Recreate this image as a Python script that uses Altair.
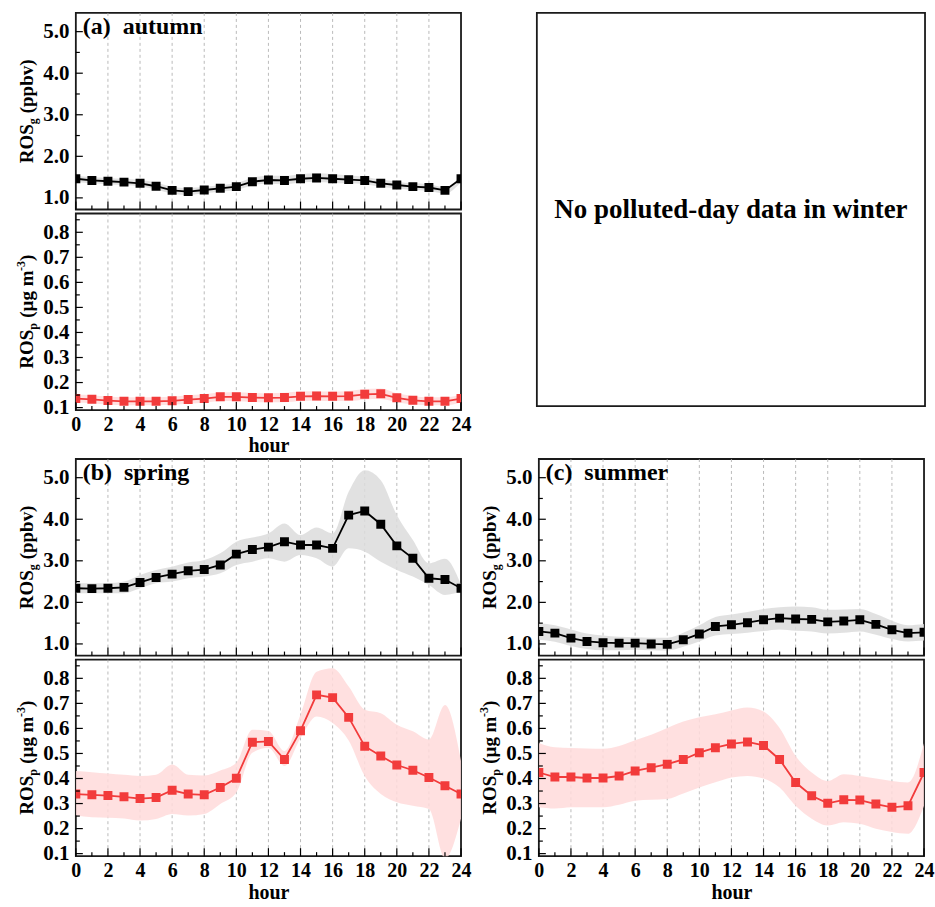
import altair as alt
import pandas as pd

# ---------------- data ----------------
hours = list(range(25))

aut_g = [1.46, 1.42, 1.40, 1.38, 1.35, 1.28, 1.18, 1.15, 1.19, 1.23, 1.27, 1.39, 1.43,
         1.42, 1.46, 1.48, 1.46, 1.44, 1.42, 1.35, 1.31, 1.27, 1.25, 1.18, 1.46]
aut_g_hi = [1.53, 1.50, 1.48, 1.46, 1.43, 1.37, 1.27, 1.24, 1.27, 1.31, 1.36, 1.48, 1.53,
            1.53, 1.57, 1.59, 1.57, 1.54, 1.51, 1.44, 1.39, 1.35, 1.33, 1.26, 1.54]
aut_g_lo = [1.39, 1.35, 1.33, 1.31, 1.28, 1.20, 1.10, 1.07, 1.11, 1.15, 1.19, 1.30, 1.34,
            1.33, 1.37, 1.38, 1.36, 1.35, 1.33, 1.27, 1.23, 1.19, 1.17, 1.10, 1.38]

aut_p = [0.136, 0.133, 0.128, 0.125, 0.125, 0.125, 0.127, 0.132, 0.136, 0.143, 0.143, 0.140, 0.139,
         0.140, 0.145, 0.146, 0.145, 0.146, 0.153, 0.155, 0.139, 0.129, 0.125, 0.125, 0.136]
aut_p_hi = [0.152, 0.149, 0.144, 0.141, 0.141, 0.141, 0.143, 0.149, 0.153, 0.160, 0.161, 0.158, 0.157,
            0.159, 0.164, 0.165, 0.164, 0.166, 0.174, 0.176, 0.157, 0.146, 0.141, 0.141, 0.152]
aut_p_lo = [0.120, 0.117, 0.112, 0.109, 0.109, 0.109, 0.111, 0.115, 0.119, 0.126, 0.125, 0.122, 0.121,
            0.121, 0.126, 0.127, 0.126, 0.126, 0.132, 0.134, 0.121, 0.112, 0.109, 0.109, 0.120]

spr_g = [2.34, 2.33, 2.34, 2.36, 2.48, 2.60, 2.68, 2.76, 2.79, 2.90, 3.16, 3.27, 3.33,
         3.46, 3.38, 3.38, 3.30, 4.10, 4.20, 3.88, 3.36, 3.06, 2.58, 2.55, 2.34]
spr_g_hi = [2.46, 2.46, 2.46, 2.50, 2.66, 2.78, 2.86, 2.96, 3.02, 3.18, 3.46, 3.56, 3.66,
            3.90, 3.62, 3.80, 3.66, 4.66, 5.18, 4.94, 4.10, 3.50, 2.94, 3.05, 2.42]
spr_g_lo = [2.22, 2.22, 2.22, 2.22, 2.34, 2.46, 2.50, 2.58, 2.62, 2.70, 2.90, 2.98, 3.06,
            2.98, 3.14, 3.06, 2.86, 3.30, 3.22, 2.98, 2.78, 2.62, 2.42, 2.18, 2.26]

spr_p = [0.338, 0.335, 0.332, 0.327, 0.320, 0.324, 0.353, 0.338, 0.335, 0.364, 0.401, 0.545, 0.548,
         0.476, 0.591, 0.734, 0.723, 0.644, 0.529, 0.490, 0.454, 0.433, 0.404, 0.371, 0.338]
spr_p_hi = [0.430, 0.425, 0.420, 0.415, 0.410, 0.415, 0.456, 0.415, 0.412, 0.432, 0.463, 0.595, 0.590,
            0.510, 0.655, 0.826, 0.840, 0.767, 0.675, 0.661, 0.615, 0.589, 0.556, 0.694, 0.470]
spr_p_lo = [0.252, 0.245, 0.243, 0.240, 0.232, 0.238, 0.258, 0.252, 0.258, 0.298, 0.344, 0.503, 0.523,
            0.450, 0.562, 0.648, 0.622, 0.552, 0.410, 0.338, 0.305, 0.291, 0.278, 0.080, 0.240]

sum_g = [1.30, 1.26, 1.14, 1.06, 1.03, 1.02, 1.02, 1.00, 0.99, 1.10, 1.24, 1.42, 1.46,
         1.51, 1.58, 1.62, 1.60, 1.59, 1.53, 1.55, 1.58, 1.47, 1.34, 1.26, 1.28]
sum_g_hi = [1.50, 1.45, 1.35, 1.25, 1.20, 1.17, 1.16, 1.15, 1.15, 1.27, 1.45, 1.65, 1.71,
            1.77, 1.84, 1.88, 1.90, 1.88, 1.82, 1.83, 1.84, 1.72, 1.56, 1.45, 1.48]
sum_g_lo = [1.10, 1.05, 0.95, 0.88, 0.85, 0.85, 0.86, 0.85, 0.84, 0.93, 1.06, 1.20, 1.24,
            1.27, 1.31, 1.35, 1.32, 1.30, 1.25, 1.27, 1.30, 1.22, 1.12, 1.06, 1.08]

sum_p = [0.424, 0.406, 0.406, 0.402, 0.402, 0.410, 0.430, 0.443, 0.457, 0.476, 0.503, 0.523, 0.538,
         0.546, 0.532, 0.476, 0.384, 0.331, 0.301, 0.315, 0.314, 0.298, 0.285, 0.291, 0.424]
sum_p_hi = [0.542, 0.525, 0.522, 0.520, 0.519, 0.530, 0.553, 0.575, 0.602, 0.628, 0.645, 0.657, 0.672,
            0.684, 0.668, 0.602, 0.490, 0.424, 0.390, 0.417, 0.410, 0.400, 0.390, 0.384, 0.542]
sum_p_lo = [0.285, 0.280, 0.285, 0.285, 0.285, 0.295, 0.311, 0.315, 0.318, 0.340, 0.364, 0.385, 0.404,
            0.410, 0.400, 0.364, 0.291, 0.239, 0.212, 0.225, 0.219, 0.199, 0.186, 0.179, 0.291]

panel_labels = ["(a)\u00a0\u00a0autumn", "(b)\u00a0\u00a0spring", "(c)\u00a0\u00a0summer"]
winter_note = "No polluted-day data in winter"

g_ticks = [1.0, 2.0, 3.0, 4.0, 5.0]
g_minor = [1.5, 2.5, 3.5, 4.5]
p_ticks = [0.1, 0.2, 0.3, 0.4, 0.5, 0.6, 0.7, 0.8]
p_minor = [0.15, 0.25, 0.35, 0.45, 0.55, 0.65, 0.75, 0.85]
hour_ticks = [0, 2, 4, 6, 8, 10, 12, 14, 16, 18, 20, 22, 24]
hour_minor = [1, 3, 5, 7, 9, 11, 13, 15, 17, 19, 21, 23]
grid_hours = [2, 4, 6, 8, 10, 12, 14, 16, 18, 20, 22]

# ---------------- style ----------------
FONT = "Liberation Serif"
W = 386
H = 197
G_DOMAIN = [0.72, 5.45]
P_DOMAIN = [0.09, 0.875]
YLBL = 21
XLBL = 20
TTL = 19
BLACK = "#000000"
FRAME = "#1a1a1a"
RED = "#f23b3b"
GRAY_BAND = "#dcdcdc"
PINK_BAND = "#ffdada"
VIEW = alt.ViewBackground(stroke=FRAME, strokeWidth=1.8, strokeOpacity=1)


def x_enc(field, show):
    if show:
        axis = alt.Axis(values=hour_ticks, format="d", ticks=False, domain=False, grid=False,
                        title="hour", labelFont=FONT, labelFontSize=XLBL, labelFontWeight="bold",
                        labelColor=BLACK, labelPadding=4, labelFlush=False, labelOverlap=False,
                        titleFont=FONT, titleFontSize=20, titleFontWeight="bold",
                        titleColor=BLACK, titlePadding=2)
    else:
        axis = None
    return alt.X(f"{field}:Q", scale=alt.Scale(domain=[0, 24], nice=False, zero=False), axis=axis)


def y_enc(field, kind):
    dom = G_DOMAIN if kind == "g" else P_DOMAIN
    vals = g_ticks if kind == "g" else p_ticks
    axis = alt.Axis(values=vals, format=".1f", ticks=False, domain=False, grid=False, title=None,
                    labelFont=FONT, labelFontSize=YLBL, labelFontWeight="bold", labelColor=BLACK,
                    labelPadding=7, labelOverlap=False)
    return alt.Y(f"{field}:Q", scale=alt.Scale(domain=dom, nice=False, zero=False), axis=axis)


def text_piece(t, x, y, size, align):
    return alt.Chart(pd.DataFrame({"t": [t]})).mark_text(
        angle=270, align=align, baseline="alphabetic", font=FONT, fontSize=size,
        fontWeight="bold", color=BLACK
    ).encode(text="t:N", x=alt.value(x), y=alt.value(y))


def y_title(kind):
    c = H / 2
    bx = -43
    if kind == "g":
        return [
            text_piece("ROS", bx, c + 13, TTL, "right"),
            text_piece("g", bx + 4, c + 13, 12, "left"),
            text_piece("(ppbv)", bx, c + 2, TTL, "left"),
        ]
    return [
        text_piece("ROS", bx, c + 18, TTL, "right"),
        text_piece("p", bx + 4, c + 18, 12, "left"),
        text_piece("(\u00b5g m", bx, c + 6, TTL, "left"),
        text_piece("-3", bx - 8, c - 41, 12, "left"),
        text_piece(")", bx, c - 51, TTL, "left"),
    ]


def subplot(val, lo, hi, kind, show_x, label=None):
    df = pd.DataFrame({"h": hours, "v": val, "lo": lo, "hi": hi})
    col = BLACK if kind == "g" else RED
    band_col = GRAY_BAND if kind == "g" else PINK_BAND
    base = alt.Chart(df)
    grid = alt.Chart(pd.DataFrame({"gh": grid_hours})).mark_rule(
        color="#a8a8a8", strokeDash=[3, 3], strokeWidth=0.8
    ).encode(x=x_enc("gh", show_x))
    band = base.mark_area(interpolate="monotone", color=band_col, opacity=0.85, clip=True).encode(
        x=x_enc("h", show_x), y=y_enc("lo", kind), y2="hi:Q")
    line = base.mark_line(color=col, strokeWidth=1.8, clip=True).encode(
        x=x_enc("h", show_x), y=y_enc("v", kind))
    pts = base.mark_square(size=80, color=col, opacity=1, clip=True).encode(
        x=x_enc("h", show_x), y=y_enc("v", kind))
    ticks = g_ticks if kind == "g" else p_ticks
    minor = g_minor if kind == "g" else p_minor
    yt = alt.Chart(pd.DataFrame({"yt": ticks})).mark_rule(color=BLACK, strokeWidth=1.2).encode(
        y=y_enc("yt", kind), x=alt.value(0), x2=alt.value(7))
    ym = alt.Chart(pd.DataFrame({"ym": minor})).mark_rule(color=BLACK, strokeWidth=1.2).encode(
        y=y_enc("ym", kind), x=alt.value(0), x2=alt.value(4))
    xt = alt.Chart(pd.DataFrame({"xt": hour_ticks})).mark_rule(color=BLACK, strokeWidth=1.2).encode(
        x=x_enc("xt", show_x), y=alt.value(H), y2=alt.value(H - 8))
    xm = alt.Chart(pd.DataFrame({"xm": hour_minor})).mark_rule(color=BLACK, strokeWidth=1.2).encode(
        x=x_enc("xm", show_x), y=alt.value(H), y2=alt.value(H - 4))
    layers = [grid, band, line, pts, yt, ym, xt, xm] + y_title(kind)
    if label is not None:
        lab = alt.Chart(pd.DataFrame({"t": [label]})).mark_text(
            align="left", baseline="alphabetic", font=FONT, fontSize=24, fontWeight="bold", color=BLACK
        ).encode(text="t:N", x=alt.value(7), y=alt.value(21))
        layers.append(lab)
    return alt.layer(*layers).properties(width=W, height=H, view=VIEW)


def season(g, g_lo, g_hi, p, p_lo, p_hi, label):
    top = subplot(g, g_lo, g_hi, "g", False, label)
    bot = subplot(p, p_lo, p_hi, "p", True)
    return alt.vconcat(top, bot, spacing=0)


autumn = season(aut_g, aut_g_lo, aut_g_hi, aut_p, aut_p_lo, aut_p_hi, panel_labels[0])
spring = season(spr_g, spr_g_lo, spr_g_hi, spr_p, spr_p_lo, spr_p_hi, panel_labels[1])
summer = season(sum_g, sum_g_lo, sum_g_hi, sum_p, sum_p_lo, sum_p_hi, panel_labels[2])

winter = alt.Chart(pd.DataFrame({"t": [winter_note]})).mark_text(
    font=FONT, fontSize=27, fontWeight="bold", color=BLACK, align="center", baseline="middle"
).encode(text="t:N", x=alt.value(194.5), y=alt.value(197)).properties(
    width=389, height=394, view=VIEW)

top_row = alt.hconcat(autumn, winter, spacing=64)
bottom_row = alt.hconcat(spring, summer, spacing=5)

chart = alt.vconcat(top_row, bottom_row, spacing=0).properties(
    padding={"left": 14, "top": 10, "right": 0, "bottom": 0}
).configure_view(stroke=FRAME, strokeWidth=1.8).configure(background="white")

chart.save("out.html", embed_options={"renderer": "svg", "actions": False})
